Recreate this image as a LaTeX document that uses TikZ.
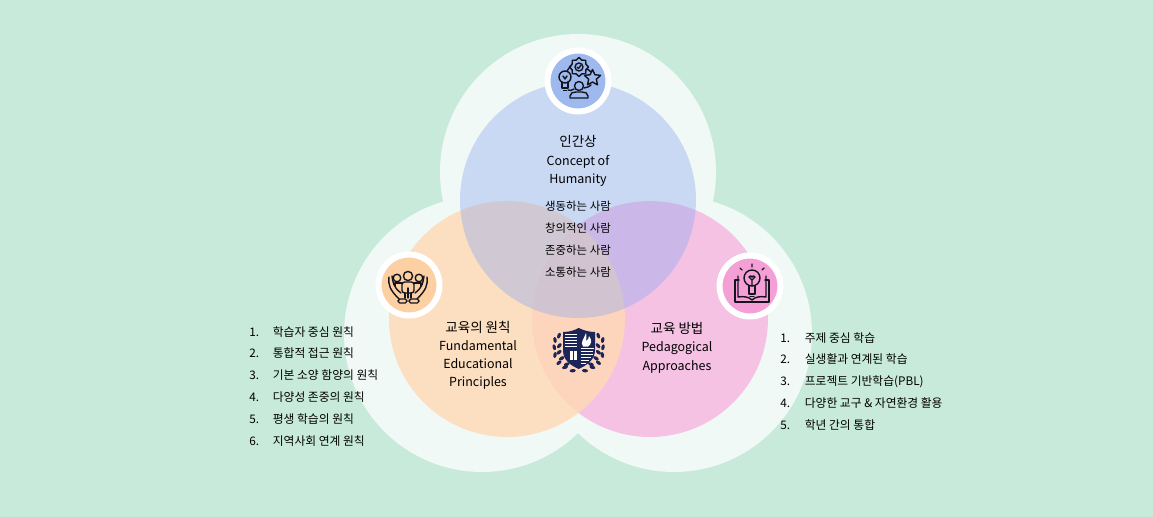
\documentclass[tikz,border=0pt]{standalone}
\usepackage{fontspec}
\setmainfont{Noto Sans CJK KR}
\usetikzlibrary{positioning, shapes.geometric}
\definecolor{bgmint}{RGB}{200,234,219}
\definecolor{haloblue}{RGB}{241,249,246}
\definecolor{humanblue}{RGB}{143,170,240}
\definecolor{principleorange}{RGB}{255,217,179}
\definecolor{methodpink}{RGB}{245,194,228}
\definecolor{badgeblue}{RGB}{157,185,238}
\definecolor{badgeorange}{RGB}{252,208,163}
\definecolor{badgepink}{RGB}{244,160,214}
\definecolor{inkdark}{RGB}{20,20,30}
\definecolor{crestnavy}{RGB}{27,37,87}
\newcommand{\leaf}[3]{\fill[crestnavy, rotate around={#3:(#1,#2)}] (#1,#2) ellipse [x radius=1.7, y radius=3];}
\tikzset{
  halo/.style={circle, fill=haloblue, minimum size=5.52cm, inner sep=0pt},
  venn/.style={circle, minimum size=4.72cm, inner sep=0pt},
  badge/.style={circle, draw=white, line width=0.12cm, minimum size=1.22cm, inner sep=0pt},
  title/.style={font=\fontsize{7.7}{9}\selectfont, text=black, inner sep=0pt, text height=0.24cm, text depth=0.06cm},
  titleeng/.style={title, font=\fontsize{7.1}{9}\selectfont},
  trait/.style={font=\fontsize{6.5}{8}\selectfont, text=black, inner sep=0pt, text height=0.22cm, text depth=0.06cm},
  listnum/.style={font=\fontsize{6.7}{8}\selectfont, text=black, inner sep=0pt, text height=0.22cm, text depth=0.06cm, anchor=west},
  listtxt/.style={listnum},
  iconline/.style={draw=inkdark, line width=0.028cm, line join=round, line cap=round}
}
\begin{document}
\begin{tikzpicture}[x=0.02cm, y=-0.02cm]
  \useasboundingbox (0,0) rectangle (1153,517);
  \fill[bgmint] (0,0) rectangle (1153,517);

  % halos
  \node[halo] (halotop) at (578,172) {};
  \node[halo] (haloleft) at (482,334) {};
  \node[halo] (haloright) at (674,334) {};

  % three circles
  \node[venn, fill=methodpink] (method) at (650,319) {};
  \node[venn, fill=principleorange, fill opacity=0.8] (principle) at (507,319) {};
  \node[venn, fill=humanblue, fill opacity=0.4] (human) at (578,200) {};

  % badges
  \node[badge, fill=badgeblue] (badgetop) at (578,81) {};
  \node[badge, fill=badgeorange] (badgeleft) at (409,285) {};
  \node[badge, fill=badgepink] (badgeright) at (750,286) {};

  % top texts
  \node[title] (toptitle) at (578,142) {인간상};
  \node[titleeng] (topeng) at (578,161) {Concept of};
  \node[titleeng] (topengb) at (578,179) {Humanity};
  \node[trait] (traita) at (578,206) {생동하는 사람};
  \node[trait] (traitb) at (578,228) {창의적인 사람};
  \node[trait] (traitc) at (578,250) {존중하는 사람};
  \node[trait] (traitd) at (578,272) {소통하는 사람};

  % left and right texts
  \node[title] (lefttitle) at (478,328) {교육의 원칙};
  \node[titleeng] (lefteng) at (478,346) {Fundamental};
  \node[titleeng] (leftengb) at (478,364) {Educational};
  \node[titleeng] (leftengc) at (478,382) {Principles};
  \node[title] (righttitle) at (677,329) {교육 방법};
  \node[titleeng] (righteng) at (677,347) {Pedagogical};
  \node[titleeng] (rightengb) at (677,366) {Approaches};

  % left list
  \node[listnum] (la) at (249,332) {1.};
  \node[listtxt, right=0.26cm of la] (lta) {학습자 중심 원칙};
  \node[listnum, below=0.146cm of la] (lb) {2.};
  \node[listtxt, right=0.26cm of lb] (ltb) {통합적 접근 원칙};
  \node[listnum, below=0.146cm of lb] (lc) {3.};
  \node[listtxt, right=0.26cm of lc] (ltc) {기본 소양 함양의 원칙};
  \node[listnum, below=0.146cm of lc] (ld) {4.};
  \node[listtxt, right=0.26cm of ld] (ltd) {다양성 존중의 원칙};
  \node[listnum, below=0.146cm of ld] (le) {5.};
  \node[listtxt, right=0.26cm of le] (lte) {평생 학습의 원칙};
  \node[listnum, below=0.146cm of le] (lf) {6.};
  \node[listtxt, right=0.26cm of lf] (ltf) {지역사회 연계 원칙};

  % right list
  \node[listnum] (ra) at (780,338) {1.};
  \node[listtxt, right=0.28cm of ra] (rta) {주제 중심 학습};
  \node[listnum, below=0.146cm of ra] (rb) {2.};
  \node[listtxt, right=0.28cm of rb] (rtb) {실생활과 연계된 학습};
  \node[listnum, below=0.146cm of rb] (rc) {3.};
  \node[listtxt, right=0.28cm of rc] (rtc) {프로젝트 기반학습(PBL)};
  \node[listnum, below=0.146cm of rc] (rd) {4.};
  \node[listtxt, right=0.28cm of rd] (rtd) {다양한 교구 \& 자연환경 활용};
  \node[listnum, below=0.146cm of rd] (re) {5.};
  \node[listtxt, right=0.28cm of re] (rte) {학년 간의 통합};

  % icon: bulb, gear, star, person
  \begin{scope}[shift={(578,80)}]
    \draw[iconline] (-13,-3) circle [radius=6];
    \draw[iconline] (-16,2) -- (-16,8) -- (-10,8) -- (-10,2);
    \draw[iconline] (-14.5,10.5) -- (-11.5,10.5);
    \draw[iconline] (-15,-4) -- (-13,-1) -- (-11,-4);
    \node[star, star points=8, star point ratio=1.28, iconline, minimum size=0.38cm, inner sep=0pt] (gear) at (1,-13) {};
    \draw[iconline] (1,-13) circle [radius=4];
    \draw[iconline] (-1,-13) -- (0.5,-11.5) -- (3,-15);
    \node[star, star points=5, star point ratio=2.1, iconline, minimum size=0.34cm, inner sep=0pt] (prize) at (14.5,-2) {};
    \draw[iconline] (1,6) circle [radius=4.5];
    \draw[iconline] (-8,18) -- (-8,16) .. controls (-8,13) and (-5,12) .. (-2,12) -- (4,12) .. controls (7,12) and (10,13) .. (10,16) -- (10,18) -- cycle;
    \draw[iconline] (-10,10) .. controls (-8,11) and (-6,10.5) .. (-4,9);
    \draw[iconline] (6,8) .. controls (9,8) and (12,6) .. (13,5);
    \draw[iconline] (-11,-9) .. controls (-9,-12) and (-8,-13) .. (-7,-14);
    \draw[iconline] (9,-11) .. controls (10,-10.5) and (11.5,-9.5) .. (12.5,-8.5);
  \end{scope}

  % icon: people in hands
  \begin{scope}[shift={(408,285)}]
    \draw[iconline] (-11,-7) circle [radius=3.8];
    \draw[iconline] (0,-9) circle [radius=4.6];
    \draw[iconline] (11,-7) circle [radius=3.8];
    \draw[iconline, rounded corners=1.5] (-6,8) -- (-6,-3) -- (6,-3) -- (6,8) -- cycle;
    \draw[iconline] (-3,8) -- (-3,13) (3,8) -- (3,13) (0,3) -- (0,13);
    \draw[iconline] (-6,-2) -- (-13,-2) -- (-13,1) (6,-2) -- (13,-2) -- (13,1);
    \draw[iconline] (-19,-8) .. controls (-20,0) and (-18,5) .. (-9,14) (-16,-9) .. controls (-15,-3) and (-15,2) .. (-7,8);
    \draw[iconline] (19,-8) .. controls (20,0) and (18,5) .. (9,14) (16,-9) .. controls (15,-3) and (15,2) .. (7,8);
    \draw[iconline, rounded corners=1] (-10,14) rectangle (-1,18);
    \draw[iconline, rounded corners=1] (1,14) rectangle (11,18);
  \end{scope}

  % icon: book and bulb
  \begin{scope}[shift={(752,285)}]
    \draw[iconline] (0,-7) circle [radius=8];
    \draw[iconline] (-3,1) -- (-3,9) -- (3,9) -- (3,1);
    \draw[iconline] (-2,11.5) -- (2,11.5);
    \draw[iconline] (0,1) -- (0,-5) -- (-3,-8) .. controls (-2,-10) and (-0.5,-9) .. (0,-8) .. controls (0.5,-9) and (2,-10) .. (3,-8) -- (0,-5);
    \draw[iconline] (0,-18) -- (0,-21) (-10,-15) -- (-12,-17) (10,-15) -- (12,-17);
    \draw[iconline] (-13,-5) -- (-17,-5) -- (-17,17) -- (17,17) -- (17,-5) -- (13,-5);
    \draw[iconline] (-14,-9) -- (-14,12) .. controls (-8,11) and (-3,12) .. (0,15) .. controls (3,12) and (8,11) .. (14,12) -- (14,-9);
  \end{scope}

  % crest
  \fill[crestnavy] (563,332) .. controls (570,332) and (575,330) .. (578.7,328) .. controls (583,330) and (588,332) .. (595,332) -- (595,350) .. controls (595,360) and (587,365) .. (578.7,369) .. controls (570,365) and (563,360) .. (563,350) -- cycle;
  \fill[white] (564.5,334) rectangle (577,335.2);
  \fill[white] (564.5,337) rectangle (577,338.2);
  \fill[white] (564.5,340) rectangle (577,341.2);
  \fill[white] (564.5,343) rectangle (577,344.2);
  \fill[white] (564.5,346) rectangle (577,347.2);
  \fill[white] (569.5,351) rectangle (572.8,360);
  \fill[white] (573.8,351) rectangle (577,360);
  \fill[white] (580.5,348) rectangle (593.5,349.2);
  \fill[white] (580.5,351) rectangle (593.2,352.2);
  \fill[white] (580.5,354) rectangle (592.5,355.2);
  \fill[white] (580.5,357) rectangle (591,358.2);
  \fill[white] (580.5,360) rectangle (589,361.2);
  \fill[white] (580.5,363) rectangle (586,364.2);
  \fill[white] (583,346.5) .. controls (580,342) and (584,339) .. (586,333) .. controls (587,337) and (586,339) .. (586,341) .. controls (588,340) and (589,338) .. (589,336) .. controls (592,340) and (592,344) .. (588,346.5) -- cycle;
  \leaf{559}{335.7}{-20}
  \leaf{555}{340}{10}
  \leaf{559.3}{345.7}{-40}
  \leaf{554.3}{347.3}{15}
  \leaf{559}{352.3}{-50}
  \leaf{555}{355}{-10}
  \leaf{561.7}{358.3}{-60}
  \leaf{559}{362.7}{-50}
  \leaf{566.7}{364.3}{-70}
  \leaf{565}{367.3}{-75}
  \leaf{572.7}{370.7}{-85}
  \leaf{598.3}{335.7}{20}
  \leaf{602.7}{340}{-10}
  \leaf{598}{345.7}{40}
  \leaf{603}{347.3}{-15}
  \leaf{598.4}{352.3}{50}
  \leaf{602.4}{355}{10}
  \leaf{596}{358.3}{60}
  \leaf{598.4}{362.7}{50}
  \leaf{591}{364.3}{70}
  \leaf{592.4}{367.3}{75}
  \leaf{585}{370.7}{85}
\end{tikzpicture}
\end{document}
